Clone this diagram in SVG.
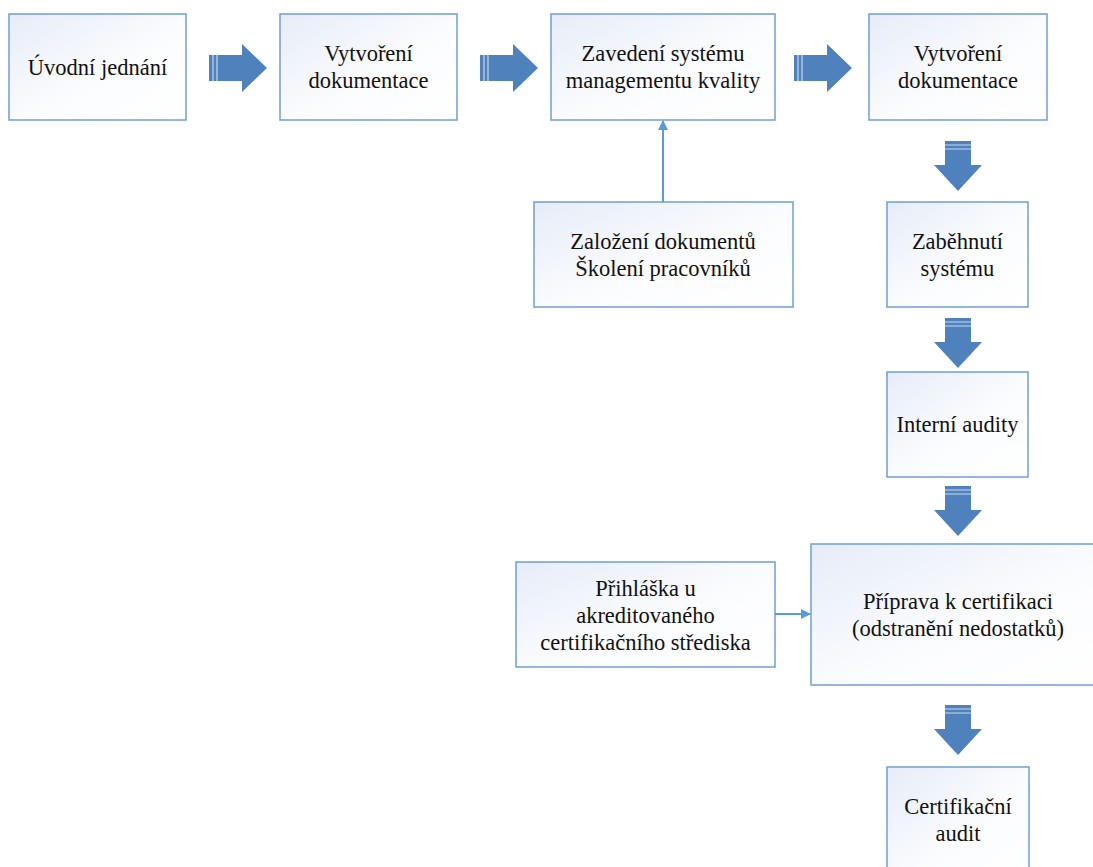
<svg xmlns="http://www.w3.org/2000/svg" width="1093" height="867" viewBox="0 0 1093 867">
  <defs>
    <linearGradient id="boxFill" x1="0" y1="0" x2="1" y2="1">
      <stop offset="0" stop-color="#e6ecf8"/>
      <stop offset="0.55" stop-color="#fbfcfe"/>
      <stop offset="1" stop-color="#ffffff"/>
    </linearGradient>
    <marker id="tip" markerWidth="10" markerHeight="10" refX="9" refY="5" orient="auto" markerUnits="userSpaceOnUse">
      <path d="M0,0 L10,5 L0,10 Z" fill="#5b9bd5"/>
    </marker>
    <!-- block arrow pointing right, origin at tail/centre -->
    <g id="blockRight">
      <path d="M0,-13 H33 V-24 L58,0 L33,24 V13 H0 Z" fill="#4f81bd"/>
      <path d="M4,-13 V13 M8,-13 V13" stroke="#c9d8ec" stroke-width="1.2"/>
    </g>
    <!-- block arrow pointing down, origin at tail/centre -->
    <g id="blockDown">
      <path d="M-13,0 V24 H-24 L0,50 L24,24 H13 V0 Z" fill="#4f81bd"/>
      <path d="M-13,4 H13 M-13,8 H13" stroke="#c9d8ec" stroke-width="1.2"/>
    </g>
  </defs>
  <style>
    .box { fill: url(#boxFill); stroke: #6f9fd3; stroke-width: 1.5; }
    .lbl { font-family: "Liberation Serif", "Noto Serif", "DejaVu Serif", "Times New Roman", Times, serif; font-size: 22.5px; fill: #111; text-anchor: middle; }
    .link { stroke: #5b9bd5; stroke-width: 2; fill: none; }
  </style>
  <rect width="1093" height="867" fill="#ffffff"/>

  <g id="n-uvodni">
    <rect class="box" x="9" y="14" width="177" height="106"/>
    <text class="lbl" x="97.5" y="75">Úvodní jednání</text>
  </g>
  <g id="n-vytvoreni1">
    <rect class="box" x="280" y="14" width="177" height="106"/>
    <text class="lbl" x="368.5" y="61">Vytvoření</text>
    <text class="lbl" x="368.5" y="88">dokumentace</text>
  </g>
  <g id="n-zavedeni">
    <rect class="box" x="551" y="14" width="224" height="106"/>
    <text class="lbl" x="663" y="61">Zavedení systému</text>
    <text class="lbl" x="663" y="88">managementu kvality</text>
  </g>
  <g id="n-vytvoreni2">
    <rect class="box" x="869" y="14" width="178" height="106"/>
    <text class="lbl" x="958" y="61">Vytvoření</text>
    <text class="lbl" x="958" y="88">dokumentace</text>
  </g>
  <g id="n-zalozeni">
    <rect class="box" x="534" y="202" width="259" height="105"/>
    <text class="lbl" x="663" y="249">Založení dokumentů</text>
    <text class="lbl" x="663" y="276">Školení pracovníků</text>
  </g>
  <g id="n-zabehnuti">
    <rect class="box" x="887" y="202" width="141" height="105"/>
    <text class="lbl" x="957.5" y="249">Zaběhnutí</text>
    <text class="lbl" x="957.5" y="276">systému</text>
  </g>
  <g id="n-interni">
    <rect class="box" x="887" y="372" width="141" height="105"/>
    <text class="lbl" x="957.5" y="432">Interní audity</text>
  </g>
  <g id="n-prihlaska">
    <rect class="box" x="516" y="562" width="259" height="105"/>
    <text class="lbl" x="645.5" y="596">Přihláška u</text>
    <text class="lbl" x="645.5" y="623">akreditovaného</text>
    <text class="lbl" x="645.5" y="650">certifikačního střediska</text>
  </g>
  <g id="n-priprava">
    <rect class="box" x="811" y="544" width="300" height="141"/>
    <text class="lbl" x="958" y="609">Příprava k certifikaci</text>
    <text class="lbl" x="958" y="636">(odstranění nedostatků)</text>
  </g>
  <g id="n-certifikacni">
    <rect class="box" x="887" y="767" width="142" height="120"/>
    <text class="lbl" x="958" y="814">Certifikační</text>
    <text class="lbl" x="958" y="841">audit</text>
  </g>

  <g id="connectors">
    <use href="#blockRight" x="209" y="68"/>
    <use href="#blockRight" x="480" y="68"/>
    <use href="#blockRight" x="794" y="68"/>
    <use href="#blockDown" x="958" y="141"/>
    <use href="#blockDown" x="958" y="318"/>
    <use href="#blockDown" x="958" y="486"/>
    <use href="#blockDown" x="958" y="705"/>
    <line class="link" x1="663" y1="202" x2="663" y2="121" marker-end="url(#tip)"/>
    <line class="link" x1="775" y1="614" x2="810" y2="614" marker-end="url(#tip)"/>
  </g>
</svg>
